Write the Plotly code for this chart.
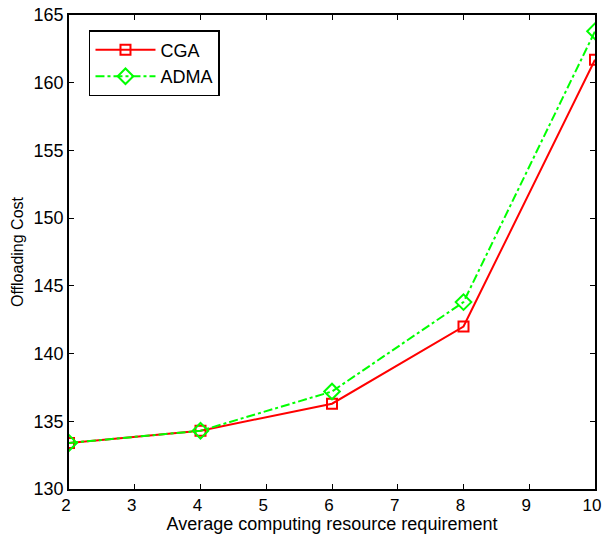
import plotly.graph_objects as go

x_vals = [2, 4, 6, 8, 10]
cga = [133.4, 134.3, 136.3, 142.0, 161.7]
adma = [133.4, 134.3, 137.2, 143.8, 163.8]

FONT = "Liberation Sans, Arial"

fig = go.Figure()
fig.add_trace(go.Scatter(x=x_vals, y=cga, name="CGA", mode="lines+markers",
                         line=dict(color="#FF0000", width=2),
                         marker=dict(symbol="square-open", size=10, color="#FF0000", line=dict(width=2))))
fig.add_trace(go.Scatter(x=x_vals, y=adma, name="ADMA", mode="lines+markers",
                         line=dict(color="#00FF00", width=2, dash="dashdot"),
                         marker=dict(symbol="diamond-open", size=12, color="#00FF00", line=dict(width=2))))

axis_common = dict(showline=True, linecolor="black", linewidth=1.5, mirror="ticks",
                   ticks="inside", ticklen=5, tickcolor="black", showgrid=False,
                   zeroline=False, ticklabeloverflow="allow")
fig.update_xaxes(range=[2, 10], dtick=1, ticklabelshift=-3,
                 tickfont=dict(family=FONT, size=17, color="black"),
                 title=dict(text="Average computing resource requirement",
                            font=dict(family=FONT, size=18, color="black"), standoff=3), **axis_common)
fig.update_yaxes(range=[130, 165], dtick=5,
                 tickfont=dict(family=FONT, size=18, color="black"),
                 title=dict(text="Offloading Cost",
                            font=dict(family=FONT, size=16, color="black"), standoff=6), **axis_common)

fig.update_layout(width=602, height=534, margin=dict(l=69, r=7, t=15, b=45, autoexpand=False),
                  plot_bgcolor="white", paper_bgcolor="white",
                  legend=dict(x=0.038, y=0.968, xanchor="left", yanchor="top",
                              bordercolor="black", borderwidth=1.5, bgcolor="white",
                              font=dict(family=FONT, size=18, color="black"),
                              itemwidth=60, tracegroupgap=2),
                  showlegend=True)
fig.write_html("out.html", config={"displayModeBar": False},
               post_script="document.body.style.margin='0';document.body.style.overflow='hidden';")
